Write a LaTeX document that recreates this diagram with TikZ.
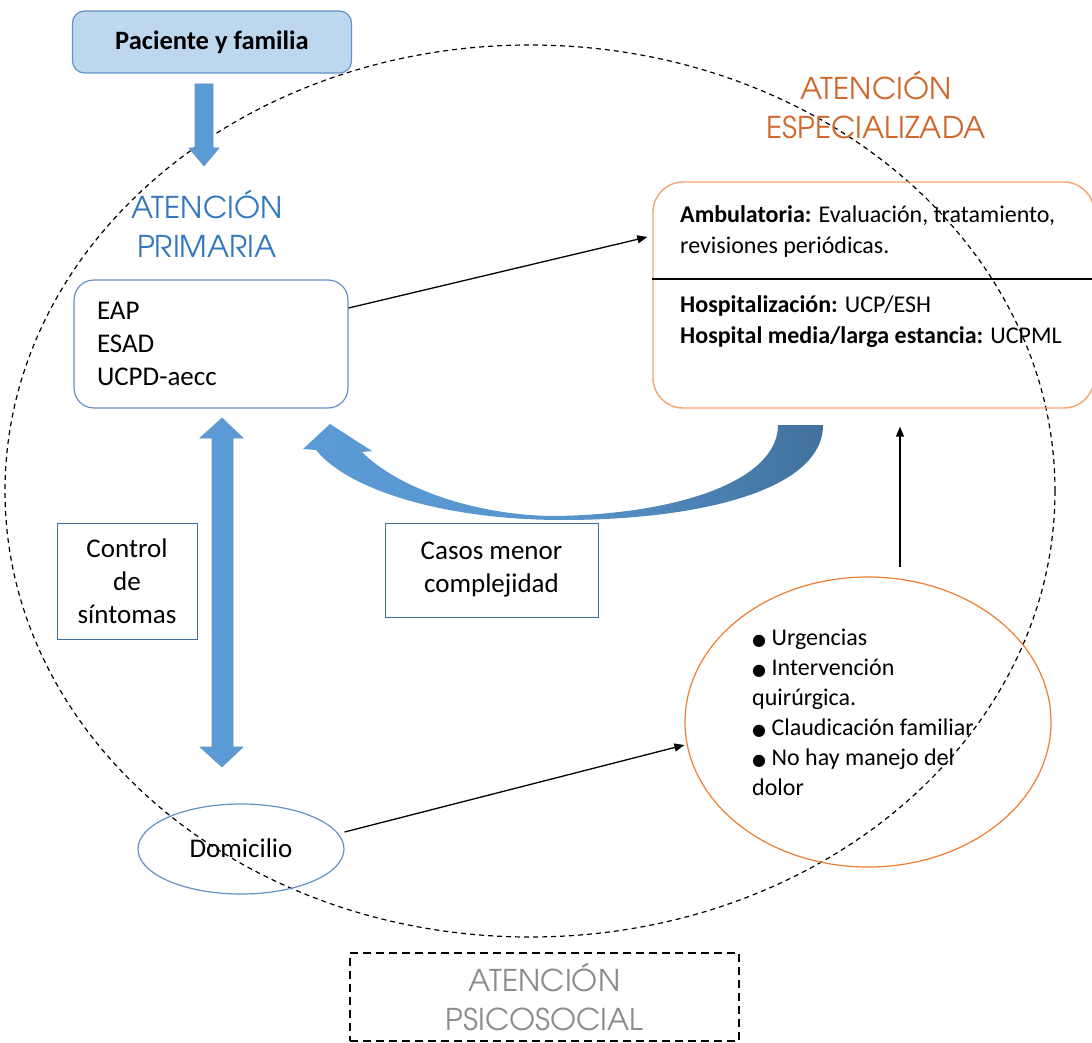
\documentclass[tikz,border=0pt]{standalone}
\usepackage{fontspec}
\setmainfont{Carlito}
\newfontfamily\headfont{TeX Gyre Adventor}
\newfontfamily\symfont{DejaVu Sans}
\usetikzlibrary{arrows.meta}
\usetikzlibrary{shapes.geometric}
\definecolor{arrowblue}{RGB}{91,155,213}
\definecolor{darkblue}{RGB}{65,113,156}
\definecolor{lineblue}{RGB}{100,145,195}
\definecolor{paleblue}{RGB}{189,215,238}
\definecolor{headblue}{RGB}{52,120,190}
\definecolor{headorange}{RGB}{206,104,44}
\definecolor{boxorange}{RGB}{244,165,110}
\definecolor{ringorange}{RGB}{237,125,49}
\definecolor{psgray}{RGB}{140,140,140}
\newcommand{\bul}{{\symfont\fontsize{16}{16}\selectfont ●}\ }

\begin{document}
\begin{tikzpicture}[x=1pt, y=-1pt,
        every node/.style={font=\fontsize{27}{33}\selectfont, inner sep=0pt},
        heading/.style={font=\headfont\fontsize{30}{39}\selectfont, align=center},
        pacbox/.style={draw=lineblue, fill=paleblue, line width=1.2pt, rounded corners=12pt,
            minimum width=279pt, minimum height=62pt, font=\bfseries\fontsize{26.5}{30}\selectfont},
        apbox/.style={draw=lineblue, line width=1.2pt, rounded corners=20pt, minimum width=274pt,
            minimum height=128pt, text width=228pt, align=left, font=\fontsize{27}{33}\selectfont},
        espbox/.style={draw=boxorange, line width=1.4pt, rounded corners=30pt,
            minimum width=441pt, minimum height=226pt},
        labelbox/.style={draw=darkblue, line width=1pt, align=center, font=\fontsize{27}{33}\selectfont},
        connect/.style={line width=1.3pt, -{Triangle[length=10pt, width=8pt]}},
        blockarrow/.style={fill=arrowblue, draw=lineblue, line width=0.6pt}]
    \useasboundingbox (0,0) rectangle (1092,1043);

    \node[draw, dashed, dash pattern=on 5pt off 4pt, line width=1.2pt, ellipse,
        minimum width=1050pt, minimum height=892pt] (circulo) at (530,491) {};

    \node[pacbox] (paciente) at (212,42) {Paciente y familia};
    \fill[blockarrow] (195,84) -- (213,84) -- (213,148) -- (219,148) -- (204,166)
        -- (189,148) -- (195,148) -- cycle;

    \node[heading, text=headblue] (primaria) at (207,224) {ATENCIÓN\\PRIMARIA};
    \node[heading, text=headorange] (especializada) at (876,105) {ATENCIÓN\\ESPECIALIZADA};

    \node[apbox] (eap) at (211,344) {EAP\\ESAD\\UCPD-aecc};

    \node[espbox] (esp) at (873.5,295) {};
    \draw[line width=1.2pt] ([yshift=16pt]esp.west) -- ([yshift=16pt]esp.east);
    \node[anchor=west, align=left, font=\fontsize{24}{31}\selectfont] (ambulatoria) at (680,232)
        {\textbf{Ambulatoria:} Evaluación, tratamiento,\\revisiones periódicas.};
    \node[anchor=west, align=left, font=\fontsize{24}{31}\selectfont] (hospital) at (680,322)
        {\textbf{Hospitalización:} UCP/ESH\\\textbf{Hospital media/larga estancia:} UCPML};

    \fill[blockarrow] (222,418) -- (243,438) -- (233,438) -- (233,747) -- (243,747)
        -- (222,767) -- (200,747) -- (212,747) -- (212,438) -- (200,438) -- cycle;

    \shade[left color=arrowblue, right color=darkblue, middle color=arrowblue!85!darkblue]
        (823,425) .. controls (823,490) and (700,520) .. (562,520)
        .. controls (450,520) and (350,492) .. (316,450) -- (303,449) -- (330,424)
        -- (372,451) -- (362,452) .. controls (400,490) and (480,516) .. (556,516)
        .. controls (680,514) and (778,480) .. (778,425) -- cycle;

    \node[labelbox, minimum width=140pt, minimum height=116pt] (control) at (127,581)
        {Control\\de\\síntomas};
    \node[labelbox, minimum width=213pt, minimum height=94pt] (casos) at (491.5,570)
        {Casos menor\\complejidad};

    \node[draw=lineblue, line width=1.2pt, ellipse, minimum width=206pt, minimum height=90pt]
        (domicilio) at (241,849) {};
    \node (domtext) at (241,848) {Domicilio};

    \node[draw=ringorange, line width=1.2pt, ellipse, minimum width=366pt, minimum height=290pt]
        (urgencias) at (868,722) {};
    \node[anchor=west, align=left, font=\fontsize{24}{30}\selectfont] (motivos) at (752,712)
        {\bul Urgencias\\\bul Intervención\\quirúrgica.\\\bul Claudicación familiar\\%
         \bul No hay manejo del\\dolor};

    \node[draw, dashed, dash pattern=on 8pt off 5pt, line width=1.4pt, minimum width=389pt,
        minimum height=88pt, heading, text=psgray] (psicosocial) at (544.5,997)
        {ATENCIÓN\\PSICOSOCIAL};

    \draw[connect] ([yshift=36pt]eap.east) -- ([xshift=-5pt, yshift=58pt]esp.west);
    \draw[connect] ([xshift=32pt, yshift=9pt]urgencias.north) -- ([xshift=26.5pt, yshift=-18pt]esp.south);
    \draw[connect] ([yshift=17pt]domicilio.east) -- ([yshift=-23pt]urgencias.west);
\end{tikzpicture}
\end{document}
